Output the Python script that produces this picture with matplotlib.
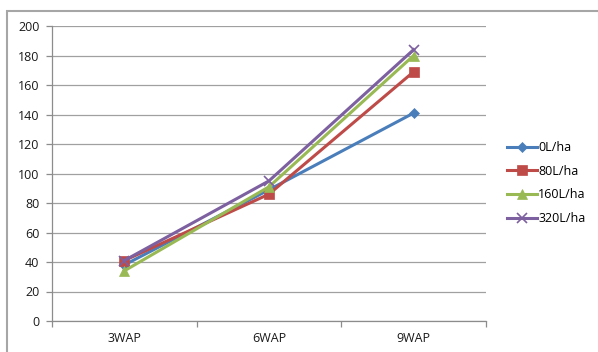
import matplotlib
matplotlib.use("Agg")
import matplotlib.pyplot as plt
from matplotlib.patches import Rectangle
from matplotlib.lines import Line2D

categories = ["3WAP", "6WAP", "9WAP"]
series_names = ["0L/ha", "80L/ha", "160L/ha", "320L/ha"]
s0 = [38, 89, 141]
s80 = [41, 86, 169]
s160 = [34, 91, 180]
s320 = [41, 95, 184]
yticks = [0, 20, 40, 60, 80, 100, 120, 140, 160, 180, 200]

colors = ["#4A7EBB", "#BE4B48", "#98B954", "#7D60A0"]
markers = ["D", "s", "^", "x"]
msizes = [5, 6.5, 7, 7]
values = [s0, s80, s160, s320]

plt.rcParams['font.family'] = ['Open Sans', 'DejaVu Sans']
W, H = 598, 352
fig = plt.figure(figsize=(W / 100, H / 100), dpi=100)

# chart border
fig.patches.append(Rectangle((7 / W, -0.1), 1.1, (H - 11) / H + 0.1, transform=fig.transFigure,
                             fill=False, edgecolor="#A6A6A6", linewidth=1.5, zorder=0))

ax = fig.add_axes([52 / W, 1 - 321 / H, (486 - 52) / W, (321 - 26) / H])
x = [i + 0.5 for i in range(len(categories))]
for vals, c, m, ms, name in zip(values, colors, markers, msizes, series_names):
    ax.plot(x, vals, color=c, marker=m, markersize=ms, linewidth=2.2, label=name,
            markeredgewidth=1.2 if m == "x" else 0.5, clip_on=False, zorder=3)

ax.set_xlim(0, 3)
ax.set_ylim(0, 200)
ax.set_yticks(yticks)
ax.set_yticklabels([str(v) for v in yticks])
ax.yaxis.grid(True, color="#A0A0A0", linewidth=0.9)
ax.set_axisbelow(True)
ax.set_xticks(x)
ax.set_xticklabels(categories)
ax.set_xticks([0, 1, 2, 3], minor=True)
ax.tick_params(axis='x', which='major', length=0, pad=8, labelsize=9, colors="#1a1a1a")
ax.tick_params(axis='x', which='minor', length=4, color="#8C8C8C", width=0.9)
ax.tick_params(axis='y', length=4, color="#8C8C8C", width=0.9, labelsize=9, labelcolor="#1a1a1a", pad=5)
for s in ["top", "right"]:
    ax.spines[s].set_visible(False)
for s in ["left", "bottom"]:
    ax.spines[s].set_color("#8C8C8C")
    ax.spines[s].set_linewidth(0.9)

handles = [Line2D([0], [0], color=c, marker=m, markersize=ms, linewidth=2.2,
                  markeredgewidth=1.2 if m == "x" else 0.5)
           for c, m, ms in zip(colors, markers, msizes)]
fig.legend(handles, series_names, loc="center left", bbox_to_anchor=(507 / W, 1 - 183 / H),
           frameon=False, fontsize=9, handlelength=2.4, handletextpad=0.1,
           labelspacing=0.85, borderaxespad=0, borderpad=0)

fig.savefig("out.png", dpi=100)
